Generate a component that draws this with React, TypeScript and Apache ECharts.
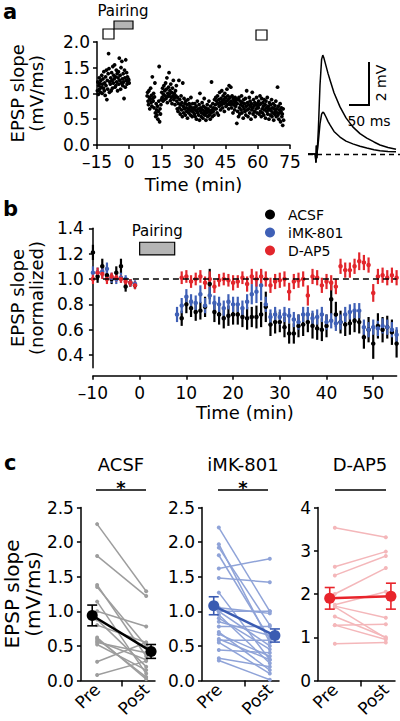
import React, { useEffect, useRef } from "react";
import * as echarts from "echarts";

const FONT = "DejaVu Sans";

// ---------- Panel a: EPSP slope of one cell over time ----------
const aStep = 0.2; // min between stimuli
const aPreStart = -14.8;
const aPreSlopes = [
  1.05, 1.22, 0.98, 1.15, 1.30, 1.08, 1.19, 1.02, 1.25, 1.12,
  1.35, 1.00, 1.18, 1.28, 1.10, 1.42, 1.05, 1.20, 0.96, 1.32,
  1.15, 1.45, 0.88, 1.25, 1.08, 1.38, 1.77, 1.48, 1.02, 1.22,
  1.18, 1.30, 1.05, 1.40, 1.25, 1.10, 1.52, 1.20, 1.35, 1.28,
  1.55, 1.12, 1.32, 1.15, 1.45, 1.22, 1.38, 1.05, 1.30, 1.42,
  1.18, 1.68, 1.25, 1.35, 1.08, 1.50, 1.20, 1.62, 1.28, 1.15,
  1.38, 1.22, 0.90, 1.45, 1.30, 1.12, 1.65, 1.25, 1.40, 1.18,
  1.32, 1.22, 1.28, 1.26, 1.20,
];
const aPostStart = 8.4;
const aPostSlopes = [
  0.95, 1.02, 0.85, 0.78, 1.05, 0.92, 0.70, 0.88, 1.10, 0.82,
  0.96, 0.75, 1.32, 0.90, 0.85, 1.00, 0.72, 0.93, 1.20,
  0.62, 0.55, 0.80, 0.68, 0.58, 0.75, 0.50, 0.65, 0.85, 1.52,
  0.45, 0.70, 0.60, 0.78, 0.88,
  1.02, 0.92, 1.10, 0.85, 0.98, 1.15, 0.88, 1.05, 0.95, 1.20,
  0.90, 1.08, 1.30, 0.82, 1.00, 0.94, 1.12, 1.40, 0.98, 1.05,
  0.86, 1.18, 0.92, 1.02, 0.80, 1.10, 0.95, 1.25, 0.88, 1.00,
  0.92, 0.78, 1.05, 0.95, 1.15,
  0.85, 0.70, 0.92, 0.65, 0.80, 1.25, 0.72, 0.88, 0.60, 0.78,
  0.95, 0.68, 0.82, 0.55, 1.20, 0.75, 0.62, 0.90, 0.70, 0.80,
  0.58, 0.85, 0.72, 0.65, 0.78, 0.52, 0.88, 0.70, 0.62, 0.80,
  0.68, 0.75, 0.58, 0.92, 0.66, 0.72, 0.55, 0.80, 0.64, 0.70,
  0.72, 0.60, 0.80, 0.55, 0.68, 0.75, 0.50, 0.65, 0.85, 0.62,
  0.70, 0.58, 0.78, 0.48, 1.00, 0.66, 0.72, 0.55, 0.62, 0.82,
  0.68, 0.52, 0.75, 0.60, 0.90, 0.65, 0.58, 0.72, 0.48, 0.68,
  0.62, 0.78, 0.55, 0.70, 0.64, 0.85, 0.58, 0.66, 0.50, 0.75,
  0.62, 1.22, 0.68, 0.55, 0.80, 0.65, 0.72, 0.58, 0.88, 0.70,
  0.78, 0.92, 0.70, 0.85, 0.62, 0.95, 0.80, 0.58, 0.88, 0.75,
  1.02, 0.82, 0.68, 0.90, 0.78, 1.05, 0.85, 0.72, 0.95, 0.80,
  0.88, 0.65, 1.00, 0.82, 0.92, 0.75, 0.85, 1.08, 0.78, 0.95,
  0.88, 0.70, 1.15, 0.82, 0.92, 0.78, 1.12, 0.85, 0.72, 0.95,
  0.80, 0.62, 0.90, 0.78, 0.85, 0.68, 0.92, 0.75, 0.82, 0.88,
  0.42, 0.80, 0.65, 0.88, 0.55, 0.92, 0.72, 0.60, 0.85, 0.78,
  0.68, 0.95, 0.62, 0.82, 0.75, 0.52, 0.88, 0.70, 0.80, 0.65,
  0.90, 0.58, 0.75, 1.05, 0.68, 0.82, 0.55, 0.78, 0.70, 0.92,
  0.62, 0.85, 0.75, 0.50, 0.80, 0.68, 1.02, 0.72, 0.60, 0.88,
  0.76, 0.65, 0.82, 0.55, 0.78, 0.70, 0.92, 0.62, 0.80, 0.74,
  0.72, 0.85, 0.60, 0.78, 0.95, 0.65, 0.80, 0.55, 0.90, 0.70,
  0.62, 0.82, 0.75, 0.58, 0.88, 0.68, 0.78, 0.52, 0.85, 0.72,
  0.65, 0.92, 0.60, 0.75, 0.68, 0.50, 0.82, 0.70, 0.58, 0.78,
  0.66, 0.88, 0.55, 0.72, 0.62, 0.80, 0.48, 0.70, 0.60, 0.76,
  0.65, 0.85, 0.55, 0.70, 0.62, 1.12, 0.58, 0.75, 0.50, 0.68,
  0.62, 0.80, 0.45, 0.65, 0.72, 0.55, 0.60, 0.38, 0.70, 0.48,
];

// example EPSP traces (ms, mV)
const traceTimeMs = [0, 18, 20, 21, 22, 23, 26, 30, 34, 37, 40, 45, 50, 55, 65, 80, 95, 112, 130, 147, 165, 180, 200, 220];
const traceBefore = [0, 0, -0.4, 0.4, -0.2, 0.1, 1.2, 3.2, 4.4, 4.6, 4.45, 4.1, 3.75, 3.44, 2.85, 2.19, 1.68, 1.26, 0.95, 0.74, 0.56, 0.42, 0.3, 0.22];
const traceAfter = [0, 0, -0.4, 0.4, -0.2, 0.1, 0.6, 1.4, 1.85, 1.95, 1.9, 1.72, 1.52, 1.35, 1.05, 0.79, 0.6, 0.47, 0.36, 0.28, 0.2, 0.15, 0.12, 0.1];

// ---------- Panel b: normalized EPSP slope (mean ± SEM per minute) ----------
const bYTicks = [0.4, 0.6, 0.8, 1.0, 1.2, 1.4];
const bXTicks = [-10, 0, 10, 20, 30, 40, 50];
const range = (a: number, b: number) => Array.from({ length: b - a + 1 }, (_, i) => a + i);
const bPreTimes = range(-10, -1);

const acsfTimes = [...bPreTimes, ...range(9, 55)];
const acsfMean = [
  1.21, 1.02, 1.10, 1.03, 1.00, 1.05, 1.10, 0.94, 0.97, 0.95,
  0.69, 0.80, 0.77, 0.74, 0.75, 0.78, 0.96, 0.74, 0.72, 0.69,
  0.71, 0.72, 0.72, 0.70, 0.69, 0.70, 0.70, 0.72, 0.78, 0.64,
  0.66, 0.66, 0.62, 0.57, 0.57, 0.63, 0.64, 0.66, 0.63, 0.61,
  0.60, 0.63, 0.84, 0.72, 0.66, 0.64, 0.65, 0.67, 0.66, 0.54,
  0.60, 0.49, 0.63, 0.60, 0.62, 0.58, 0.49,
];
const acsfSem = [
  0.06, 0.05, 0.06, 0.05, 0.04, 0.05, 0.06, 0.04, 0.03, 0.03,
  0.06, 0.07, 0.07, 0.07, 0.07, 0.08, 0.12, 0.08, 0.08, 0.08,
  0.08, 0.08, 0.08, 0.08, 0.09, 0.08, 0.09, 0.10, 0.12, 0.09,
  0.09, 0.08, 0.08, 0.08, 0.08, 0.09, 0.09, 0.08, 0.10, 0.09,
  0.09, 0.09, 0.12, 0.10, 0.09, 0.09, 0.09, 0.09, 0.09, 0.09,
  0.10, 0.12, 0.10, 0.10, 0.09, 0.10, 0.11,
];

const imkTimes = [...bPreTimes, ...range(8, 55)];
const imkMean = [
  1.05, 1.05, 1.06, 1.08, 1.01, 1.00, 1.01, 1.00, 0.97, 0.96,
  0.72, 0.79, 0.86, 0.82, 0.81, 0.88, 0.79, 0.87, 0.81, 0.80,
  0.77, 0.82, 0.80, 0.80, 0.77, 0.82, 0.88, 0.90, 0.95, 0.80,
  0.70, 0.72, 0.70, 0.72, 0.71, 0.68, 0.66, 0.72, 0.72, 0.69,
  0.70, 0.72, 0.66, 0.67, 0.65, 0.66, 0.72, 0.74, 0.75, 0.75,
  0.62, 0.60, 0.62, 0.61, 0.63, 0.62, 0.60, 0.56,
];
const imkSem = [
  0.05, 0.04, 0.05, 0.05, 0.04, 0.04, 0.04, 0.03, 0.03, 0.03,
  0.06, 0.06, 0.06, 0.06, 0.06, 0.07, 0.06, 0.07, 0.06, 0.06,
  0.06, 0.06, 0.06, 0.06, 0.06, 0.06, 0.08, 0.09, 0.12, 0.06,
  0.06, 0.06, 0.06, 0.06, 0.06, 0.06, 0.06, 0.06, 0.06, 0.06,
  0.06, 0.06, 0.06, 0.06, 0.06, 0.06, 0.06, 0.06, 0.06, 0.06,
  0.06, 0.06, 0.06, 0.06, 0.06, 0.06, 0.06, 0.06,
];

const dap5Times = [...bPreTimes, ...range(9, 55)];
const dap5Mean = [
  1.00, 1.05, 1.04, 1.00, 1.02, 1.01, 1.00, 0.98, 0.97, 0.95,
  1.01, 1.02, 0.98, 1.00, 1.02, 0.97, 1.00, 0.94, 0.99, 1.00,
  0.99, 0.97, 0.98, 1.01, 0.96, 1.02, 1.00, 1.02, 1.00, 0.95,
  0.98, 0.99, 1.00, 0.90, 0.98, 0.99, 1.00, 0.87, 1.02, 1.01,
  0.95, 0.98, 0.97, 0.94, 1.10, 1.07, 1.07, 1.10, 1.14, 1.13,
  1.11, 0.89, 1.02, 1.03, 1.01, 1.03, 1.01,
];
const dap5Sem = [
  0.04, 0.04, 0.04, 0.04, 0.03, 0.03, 0.03, 0.03, 0.03, 0.03,
  0.05, 0.05, 0.05, 0.05, 0.05, 0.05, 0.06, 0.05, 0.05, 0.05,
  0.05, 0.06, 0.05, 0.05, 0.06, 0.06, 0.06, 0.06, 0.06, 0.06,
  0.06, 0.06, 0.06, 0.07, 0.06, 0.06, 0.06, 0.08, 0.06, 0.06,
  0.06, 0.06, 0.06, 0.06, 0.06, 0.06, 0.06, 0.06, 0.07, 0.06,
  0.06, 0.07, 0.06, 0.06, 0.06, 0.06, 0.06,
];

// ---------- Panel c: Pre vs Post per cell ----------
const cCategories = ["Pre", "Post"];
const cGroups = ["ACSF", "iMK-801", "D-AP5"];
const acsfPre = [2.26, 1.80, 1.38, 1.35, 1.14, 1.00, 0.88, 0.80, 0.60, 0.57, 0.55, 0.52, 0.27, 0.08, 0.62];
const acsfPost = [1.29, 1.22, 0.35, 0.50, 0.10, 0.78, 0.20, 0.55, 0.05, 0.30, 0.40, 0.15, 0.55, 0.28, 0.02];
const imkPre = [2.21, 1.97, 1.92, 1.81, 1.62, 1.48, 1.27, 1.05, 1.00, 0.95, 0.90, 0.85, 0.78, 0.70, 0.67, 0.58, 0.55, 0.44, 0.32, 0.29, 1.00, 0.60];
const imkPost = [1.00, 0.55, 0.80, 0.60, 1.76, 1.42, 0.30, 0.97, 0.50, 0.25, 0.45, 0.65, 0.78, 0.15, 0.35, 0.58, 0.10, 0.40, 0.20, 0.01, 1.00, 0.30];
const dap5Pre = [3.53, 2.63, 2.43, 2.00, 1.75, 1.72, 1.48, 1.28, 1.28, 0.85, 1.70];
const dap5Post = [3.31, 2.98, 2.88, 2.60, 2.05, 1.45, 1.00, 1.30, 0.95, 0.88, 0.98];
const cMeanPre = [0.94, 1.08, 1.90];
const cMeanPost = [0.42, 0.65, 1.95];
const cSemPre = [0.15, 0.13, 0.25];
const cSemPost = [0.10, 0.095, 0.30];
const cMeanX = [-0.1, 1.1];

const BLUE = "#3f60b6";
const RED = "#e2262c";

export default function App() {
  const ref = useRef<HTMLDivElement>(null);
  useEffect(() => {
    if (!ref.current) return;
    const chart = echarts.init(ref.current, undefined, { renderer: "svg" });

    const lineStyle = { color: "#000", width: 1.5 };
    const tick = { show: true, length: 4, inside: false, lineStyle: { color: "#000", width: 1.5 } };
    const lbl = { color: "#000", fontFamily: FONT, fontSize: 17 };
    const nameStyle = (size: number) => ({ color: "#000", fontFamily: FONT, fontSize: size, lineHeight: size + 1 });
    const minus = (v: number) => (v < 0 ? "\u2013" + Math.abs(v) : String(v));
    const fixed1 = (v: number) => v.toFixed(1);

    const errorBars = (name: string, axis: number, xs: number[], ys: number[], es: number[], color: string, width: number, cap: number, z = 2) => ({
      type: "custom",
      name,
      xAxisIndex: axis,
      yAxisIndex: axis,
      silent: true,
      z,
      data: xs.map((x, i) => [x, ys[i] - es[i], ys[i] + es[i]]),
      encode: { x: 0, y: [1, 2] },
      renderItem: (_p: any, api: any) => {
        const lo = api.coord([api.value(0), api.value(1)]);
        const hi = api.coord([api.value(0), api.value(2)]);
        const st = { stroke: color, lineWidth: width };
        const children: any[] = [{ type: "line", shape: { x1: lo[0], y1: lo[1], x2: hi[0], y2: hi[1] }, style: st }];
        if (cap > 0) {
          children.push({ type: "line", shape: { x1: lo[0] - cap, y1: lo[1], x2: lo[0] + cap, y2: lo[1] }, style: st });
          children.push({ type: "line", shape: { x1: hi[0] - cap, y1: hi[1], x2: hi[0] + cap, y2: hi[1] }, style: st });
        }
        return { type: "group", children };
      },
    });

    const series: any[] = [];
    // panel a
    series.push({
      type: "scatter", name: "slope", xAxisIndex: 0, yAxisIndex: 0, symbolSize: 3.8, silent: true,
      itemStyle: { color: "#000", opacity: 1 },
      data: [
        ...aPreSlopes.map((v, i) => [aPreStart + i * aStep, v]),
        ...aPostSlopes.map((v, i) => [aPostStart + i * aStep, v]),
      ],
    });
    series.push({
      type: "line", name: "trace before", xAxisIndex: 1, yAxisIndex: 1, symbol: "none", silent: true,
      lineStyle: { color: "#000", width: 1.5 },
      data: traceTimeMs.map((t, i) => [t, traceBefore[i]]),
      markLine: {
        silent: true, symbol: ["none", "none"], label: { show: false },
        lineStyle: { type: [5, 4], color: "#000", width: 1.3 }, data: [{ yAxis: 0 }],
      },
    });
    series.push({
      type: "line", name: "trace after", xAxisIndex: 1, yAxisIndex: 1, symbol: "none", silent: true,
      lineStyle: { color: "#000", width: 1.5 },
      data: traceTimeMs.map((t, i) => [t, traceAfter[i]]),
    });

    // panel b
    const groupsB = [
      { name: "ACSF", color: "#000", t: acsfTimes, m: acsfMean, e: acsfSem },
      { name: "iMK-801", color: BLUE, t: imkTimes, m: imkMean, e: imkSem },
      { name: "D-AP5", color: RED, t: dap5Times, m: dap5Mean, e: dap5Sem },
    ];
    groupsB.forEach((g, gi) => {
      series.push(errorBars(g.name + " sem", 2, g.t, g.m, g.e, g.color, 2.2, 0));
      const s: any = {
        type: "scatter", name: g.name, xAxisIndex: 2, yAxisIndex: 2, symbolSize: 4.5, silent: true,
        itemStyle: { color: g.color, opacity: 1 }, data: g.t.map((t, i) => [t, g.m[i]]),
      };
      if (gi === 0) {
        s.markLine = {
          silent: true, symbol: ["none", "none"], label: { show: false },
          lineStyle: { type: [6, 4], color: "#000", width: 1.5 }, data: [{ yAxis: 1.0 }],
        };
        s.markArea = {
          silent: true,
          itemStyle: { color: "#b5b5b5", borderColor: "#000", borderWidth: 1.2 },
          label: { show: true, position: "top", distance: 3, color: "#000", fontFamily: FONT, fontSize: 15 },
          data: [[{ name: "Pairing", xAxis: 0, yAxis: 1.19 }, { xAxis: 7.5, yAxis: 1.29 }]],
        };
      }
      series.push(s);
    });

    // panel c
    const groupsC = [
      { pre: acsfPre, post: acsfPost, light: "#9d9d9d", dark: "#000" },
      { pre: imkPre, post: imkPost, light: "#8fa3d8", dark: "#3a5bb2" },
      { pre: dap5Pre, post: dap5Post, light: "#f4b7ba", dark: "#e8242b" },
    ];
    groupsC.forEach((g, gi) => {
      const ax = 3 + gi;
      g.pre.forEach((p, i) => {
        series.push({
          type: "line", name: cGroups[gi] + " cell " + (i + 1), xAxisIndex: ax, yAxisIndex: ax, silent: true,
          symbol: "circle", symbolSize: 4, lineStyle: { color: g.light, width: 1.5 }, itemStyle: { color: g.light },
          data: [[0, p], [1, g.post[i]]], z: 1,
        });
      });
      series.push(errorBars(cGroups[gi] + " mean sem", ax, cMeanX, [cMeanPre[gi], cMeanPost[gi]], [cSemPre[gi], cSemPost[gi]], g.dark, 1.6, 5, 3));
      series.push({
        type: "line", name: cGroups[gi] + " mean", xAxisIndex: ax, yAxisIndex: ax, silent: true,
        symbol: "circle", symbolSize: 11, lineStyle: { color: g.dark, width: 2.5 }, itemStyle: { color: g.dark },
        data: [[cMeanX[0], cMeanPre[gi]], [cMeanX[1], cMeanPost[gi]]], z: 4,
      });
    });

    const baseX = (gridIndex: number, extra: any) => ({
      gridIndex, type: "value", splitLine: { show: false },
      axisLine: { show: true, onZero: false, lineStyle }, axisTick: tick,
      ...extra,
    });
    const cX = (gridIndex: number) => baseX(gridIndex, {
      min: -0.33, max: 1.18,
      axisTick: { show: true, length: 6, lineStyle: { color: "#000", width: 1.5 }, customValues: [0.5] },
      axisLabel: { ...lbl, customValues: [0, 1], rotate: 45, margin: 6, formatter: (v: number) => cCategories[Math.round(v)] },
    });

    const option: any = {
      animation: false,
      textStyle: { fontFamily: FONT },
      grid: [
        { left: 79, top: 41.7, width: 211, height: 103.3 },
        { left: 308, top: 35.75, width: 92, height: 129 },
        { left: 79, top: 228.3, width: 317.6, height: 139.4 },
        { left: 78, top: 507.5, width: 77, height: 173 },
        { left: 202, top: 507.5, width: 77, height: 173 },
        { left: 318, top: 507.5, width: 77, height: 173 },
      ],
      xAxis: [
        baseX(0, {
          min: -15, max: 75, interval: 15,
          axisLabel: { ...lbl, margin: 8, formatter: minus },
          name: "Time (min)", nameLocation: "middle", nameGap: 30, nameTextStyle: nameStyle(18),
        }),
        { gridIndex: 1, type: "value", min: 0, max: 230, show: false },
        baseX(2, {
          min: -10, max: 55, offset: 8,
          axisTick: { ...tick, customValues: bXTicks },
          axisLabel: { ...lbl, margin: 9, customValues: bXTicks, formatter: minus },
          name: "Time (min)", nameLocation: "middle", nameGap: 26, nameTextStyle: nameStyle(18),
        }),
        cX(3), cX(4), cX(5),
      ],
      yAxis: [
        baseX(0, {
          min: 0, max: 2, interval: 0.5,
          axisLabel: { ...lbl, margin: 7, formatter: fixed1 },
          name: "EPSP slope\n(mV/ms)", nameLocation: "middle", nameRotate: 90, nameGap: 51, nameTextStyle: nameStyle(18),
        }),
        { gridIndex: 1, type: "value", min: -0.5, max: 5.5, show: false },
        baseX(2, {
          min: 0.3, max: 1.4,
          axisTick: { ...tick, customValues: bYTicks },
          axisLabel: { ...lbl, margin: 9, customValues: bYTicks, formatter: fixed1 },
          name: "EPSP slope\n(normalized)", nameLocation: "middle", nameRotate: 90, nameGap: 37, nameTextStyle: nameStyle(18),
        }),
        baseX(3, {
          min: 0, max: 2.5, interval: 0.5,
          axisLabel: { ...lbl, margin: 7, formatter: fixed1 },
          name: "EPSP slope\n(mV/ms)", nameLocation: "middle", nameRotate: 90, nameGap: 36, nameTextStyle: nameStyle(20),
        }),
        baseX(4, { min: 0, max: 2.5, interval: 0.5, axisLabel: { ...lbl, margin: 7, formatter: fixed1 } }),
        baseX(5, { min: 0, max: 4, interval: 1, axisLabel: { ...lbl, margin: 7 } }),
      ],
      legend: {
        data: ["ACSF", "iMK-801", "D-AP5"],
        orient: "vertical", left: 260, top: 202, icon: "circle",
        itemWidth: 10, itemHeight: 10, itemGap: 3, selectedMode: false,
        textStyle: { color: "#000", fontFamily: FONT, fontSize: 14, padding: [0, 0, 0, 8], lineHeight: 15 },
      },
      graphic: [
        // panel letters
        { type: "text", left: 3, top: 1, style: { text: "a", font: "bold 21px " + FONT, fill: "#000" } },
        { type: "text", left: 3, top: 198, style: { text: "b", font: "bold 21px " + FONT, fill: "#000" } },
        { type: "text", left: 4, top: 452, style: { text: "c", font: "bold 21px " + FONT, fill: "#000" } },
        // panel a protocol marks
        { type: "text", x: 123, y: 11, style: { text: "Pairing", font: "15px " + FONT, fill: "#000", textAlign: "center", textVerticalAlign: "middle" } },
        { type: "rect", shape: { x: 103, y: 29, width: 11, height: 10 }, style: { fill: "#fff", stroke: "#000", lineWidth: 1.2 } },
        { type: "rect", shape: { x: 114, y: 21, width: 19, height: 8 }, style: { fill: "#b5b5b5", stroke: "#000", lineWidth: 1.2 } },
        { type: "rect", shape: { x: 256, y: 30, width: 11, height: 10 }, style: { fill: "#fff", stroke: "#000", lineWidth: 1.2 } },
        // trace scale bars
        { type: "polyline", shape: { points: [[369, 62], [369, 105], [349, 105]] }, style: { fill: "none", stroke: "#000", lineWidth: 2 } },
        { type: "text", x: 381, y: 83, rotation: Math.PI / 2, style: { text: "2 mV", font: "14px " + FONT, fill: "#000", textAlign: "center", textVerticalAlign: "middle" } },
        { type: "text", x: 369, y: 121, style: { text: "50 ms", font: "14px " + FONT, fill: "#000", textAlign: "center", textVerticalAlign: "middle" } },
        // panel c titles and significance bars
        ...[121, 243, 360].map((cx, i) => ({
          type: "text", x: cx, y: 464, style: { text: cGroups[i], font: "18px " + FONT, fill: "#000", textAlign: "center", textVerticalAlign: "middle" },
        })),
        ...[[96, 146], [218, 268], [335, 386]].map(([a, b]) => ({
          type: "line", shape: { x1: a, y1: 490, x2: b, y2: 490 }, style: { stroke: "#000", lineWidth: 1.5 },
        })),
        ...[121, 243].map((cx) => ({
          type: "text", x: cx, y: 487, style: { text: "*", font: "bold 18px " + FONT, fill: "#000", textAlign: "center", textVerticalAlign: "middle" },
        })),
      ],
      series,
    };
    chart.setOption(option);
    return () => chart.dispose();
  }, []);
  return <div ref={ref} style={{ position: "absolute", left: 0, top: 0, width: 400, height: 721, background: "#fff" }} />;
}
